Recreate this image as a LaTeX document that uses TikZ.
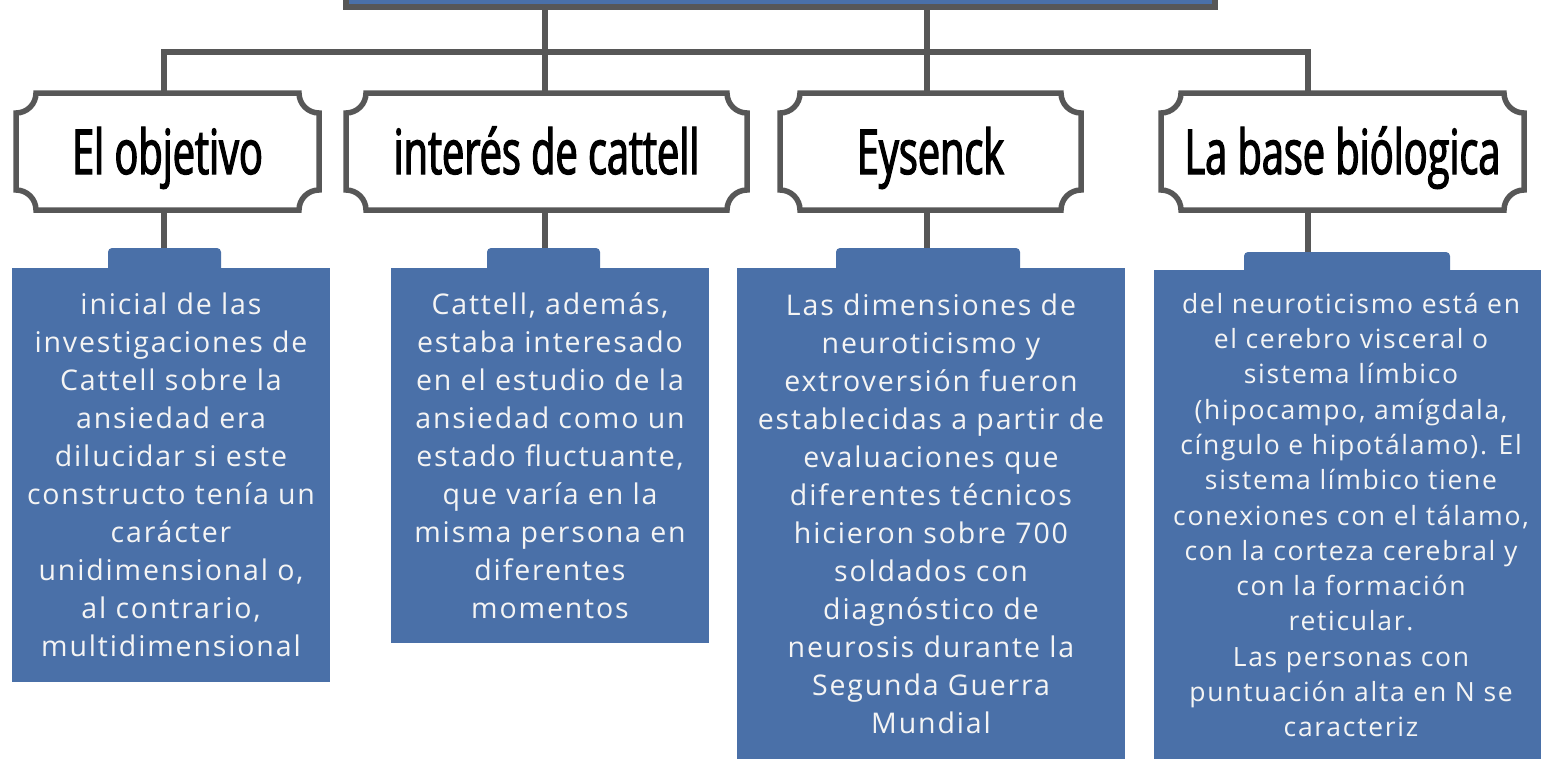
\documentclass[tikz,border=0pt]{standalone}
\usepackage{fontspec}
\setmainfont{Open Sans}
\newfontfamily\headfont[FakeStretch=0.64, FakeBold=2]{Open Sans}
\newfontfamily\detfont[LetterSpace=6.5]{Open Sans}
\usepackage{tikz}
\usetikzlibrary{calc, positioning}
\definecolor{boxblue}{HTML}{4A70A8}
\definecolor{linegray}{HTML}{575757}
\definecolor{txtwhite}{HTML}{F4F4F4}
\newcommand{\notchr}{20pt}
\tikzstyle{head} = [rectangle, outer sep=0pt, inner sep=0pt, minimum height=117pt, text height=45pt, text depth=0pt, text=black, font={\headfont\fontsize{62}{70}\selectfont}]
\tikzstyle{frame} = [draw=linegray, line width=5.5pt]
\tikzstyle{link} = [draw=linegray, line width=5.5pt]
\tikzstyle{tab} = [rectangle, rounded corners=4pt, fill=boxblue, minimum height=26pt, inner sep=0pt, outer sep=0pt, anchor=north]
\tikzstyle{detail} = [rectangle, fill=boxblue, text=txtwhite, align=center, inner sep=0pt, outer sep=0pt, anchor=north, font={\detfont\fontsize{28.5}{38}\selectfont}]
\tikzstyle{smalldetail} = [detail, font={\detfont\fontsize{26.5}{35.3}\selectfont}]
% frame with hollow corners round a head node
\newcommand{\notchframe}[1]{%
  \draw[frame] ($(#1.north west)+(\notchr,0)$) -- ($(#1.north east)+(-\notchr,0)$)
    arc (180:270:\notchr) -- ($(#1.south east)+(0,\notchr)$)
    arc (90:180:\notchr) -- ($(#1.south west)+(\notchr,0)$)
    arc (0:90:\notchr) -- ($(#1.north west)+(0,-\notchr)$)
    arc (270:360:\notchr) -- cycle;}

\begin{document}
\begin{tikzpicture}[x=1pt, y=1pt]
\useasboundingbox (0,0) rectangle (1541,-758);
\node (root) [rectangle, fill=boxblue, draw=linegray, line width=5.5pt, outer sep=0pt, minimum width=869pt, minimum height=40pt, anchor=south] at (780.5,-7) {};
\node (head1) [head, minimum width=303pt] at (167.5,-151.5) {El objetivo};
\node (head2) [head, minimum width=401pt] at (546.5,-151.5) {interés de cattell};
\node (head3) [head, minimum width=301pt] at (930.5,-151.5) {Eysenck};
\node (head4) [head, minimum width=363pt] at (1342.5,-151.5) {La base biólogica};
\notchframe{head1}
\notchframe{head2}
\notchframe{head3}
\notchframe{head4}
\coordinate (bar1) at (164,-52);
\coordinate (bar2) at (545,-52);
\coordinate (bar3) at (927,-52);
\coordinate (bar4) at (1308,-52);
\draw[link] (head1.north -| bar1) -- (bar1) -- (bar4) -- (head4.north -| bar4);
\draw[link] (root.south -| bar2) -- (head2.north -| bar2);
\draw[link] (root.south -| bar3) -- (head3.north -| bar3);
% details
\node (tab1) [tab, minimum width=113pt] at (164.5,-248) {};
\node (tab2) [tab, minimum width=113pt] at (543.5,-248) {};
\node (tab3) [tab, minimum width=184pt] at (928,-248) {};
\node (tab4) [tab, minimum width=206pt, minimum height=24pt] at (1347,-252) {};
\node (det1) [detail, minimum width=318pt, minimum height=414pt] at (171,-268) {inicial de las\\investigaciones de\\Cattell sobre la\\ansiedad era\\dilucidar si este\\constructo tenía un\\carácter\\unidimensional o,\\al contrario,\\multidimensional};
\node (det2) [detail, minimum width=318pt, minimum height=375pt] at (550,-268) {Cattell, además,\\estaba interesado\\en el estudio de la\\ansiedad como un\\estado fluctuante,\\que varía en la\\misma persona en\\diferentes\\momentos};
\node (det3) [detail, minimum width=388pt, minimum height=492pt] at (931,-268) {Las dimensiones de\\neuroticismo y\\extroversión fueron\\establecidas a partir de\\evaluaciones que\\diferentes técnicos\\hicieron sobre 700\\soldados con\\diagnóstico de\\neurosis durante la\\Segunda Guerra\\Mundial};
\node (det4) [smalldetail, minimum width=394pt, minimum height=490pt] at (1351,-270) {del neuroticismo está en\\el cerebro visceral o\\sistema límbico\\(hipocampo, amígdala,\\cíngulo e hipotálamo). El\\sistema límbico tiene\\conexiones con el tálamo,\\con la corteza cerebral y\\con la formación\\reticular.\\Las personas con\\puntuación alta en N se\\caracteriz};
\draw[link] (head1.south -| bar1) -- (tab1.north -| bar1);
\draw[link] (head2.south -| bar2) -- (tab2.north -| bar2);
\draw[link] (head3.south -| bar3) -- (tab3.north -| bar3);
\draw[link] (head4.south -| bar4) -- (tab4.north -| bar4);
\end{tikzpicture}
\end{document}
